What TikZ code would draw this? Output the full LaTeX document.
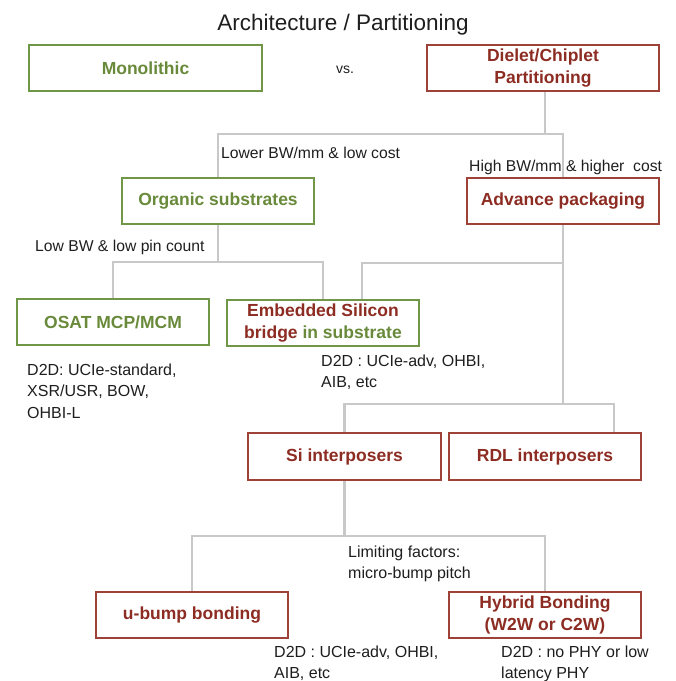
\documentclass[tikz,border=0pt]{standalone}
\usepackage{fontspec}
\setmainfont{Liberation Sans}
\definecolor{gborder}{RGB}{112,150,72}
\definecolor{gtext}{RGB}{104,138,58}
\definecolor{rborder}{RGB}{158,66,56}
\definecolor{rtext}{RGB}{140,44,34}
\definecolor{lgray}{RGB}{200,200,200}
\definecolor{ink}{RGB}{30,30,30}
\newcommand{\linesT}[1]{\begin{tabular}[t]{@{}l@{}}#1\end{tabular}}
\begin{document}
\begin{tikzpicture}[x=1pt,y=-1pt,
  box/.style={draw, line width=2pt, minimum width=192pt, minimum height=46pt, inner sep=0pt, align=center,
    font=\fontsize{17.5}{22}\selectfont\bfseries},
  gbox/.style={box, draw=gborder, text=gtext},
  rbox/.style={box, draw=rborder, text=rtext},
  conn/.style={draw=lgray, line width=2.6pt},
  lbl/.style={anchor=base west, inner sep=0pt, text=ink, font=\fontsize{15.7}{21}\selectfont},
  note/.style={anchor=base west, inner sep=0pt, text=ink, font=\fontsize{16}{21.5}\selectfont}]
\useasboundingbox (0,0) rectangle (676,681);

\coordinate (j1) at (545,134);
\coordinate (t3) at (218,262);
\coordinate (t2) at (563,263);
\coordinate (t4) at (563,404);
\coordinate (t5) at (344.5,536);

\node[inner sep=0pt, anchor=base, text=ink, font=\fontsize{22.5}{26}\selectfont] (title) at (343,30) {Architecture / Partitioning};

\node[gbox, minimum width=233pt] (mono) at (145.5,68) {Monolithic};
\node[anchor=base west, inner sep=0pt, text=ink, font=\fontsize{14}{18}\selectfont] (vs) at (336,73) {vs.};
\node[rbox, minimum width=232pt] (dielet) at (543,68) {Dielet/Chiplet\\Partitioning};

\node[gbox] (organic) at (218,201) {Organic substrates};
\node[rbox] (advance) at (563,201) {Advance packaging};

\node[gbox] (osat) at (113,322) {OSAT MCP/MCM};
\node[gbox, text=rtext] (embedded) at (323,323) {Embedded Silicon\\bridge \textcolor{gtext}{in substrate}};

\node[rbox, minimum width=193pt, minimum height=47pt] (si) at (344.5,456.5) {Si interposers};
\node[rbox, minimum height=47pt] (rdl) at (545,456.5) {RDL interposers};

\node[rbox] (ubump) at (192,615) {u-bump bonding};
\node[rbox] (hybrid) at (545,615) {Hybrid Bonding\\(W2W or C2W)};

\draw[conn] (dielet.south -| j1) -- (j1);
\draw[conn] (organic.north) |- (j1) -| (advance.north);
\draw[conn] (organic.south) -- (t3);
\draw[conn] (osat.north) |- (t3) -| (embedded.north);
\draw[conn] (advance.south) -- (t4);
\draw[conn] ([xshift=39pt]embedded.north) |- (t2);
\draw[conn] (si.north) |- (t4) -| ([xshift=69pt]rdl.north);
\draw[conn] (si.south) -- (t5);
\draw[conn] (ubump.north) |- (t5) -| (hybrid.north);

\node[lbl] (l1) at (221,158) {Lower BW/mm \& low cost};
\node[lbl] (l2) at (469,171) {High BW/mm \& higher~ cost};
\node[lbl] (l3) at (35,251) {Low BW \& low pin count};

\node[note] (n1) at (27,375) {\linesT{D2D: UCIe-standard,\\XSR/USR, BOW,\\OHBI-L}};
\node[note] (n2) at (321,366) {\linesT{D2D : UCIe-adv, OHBI,\\AIB, etc}};
\node[note] (n3) at (348,557) {\linesT{Limiting factors:\\micro-bump pitch}};
\node[note] (n4) at (274,657) {\linesT{D2D : UCIe-adv, OHBI,\\AIB, etc}};
\node[note] (n5) at (501,657) {\linesT{D2D : no PHY or low\\latency PHY}};
\end{tikzpicture}
\end{document}
